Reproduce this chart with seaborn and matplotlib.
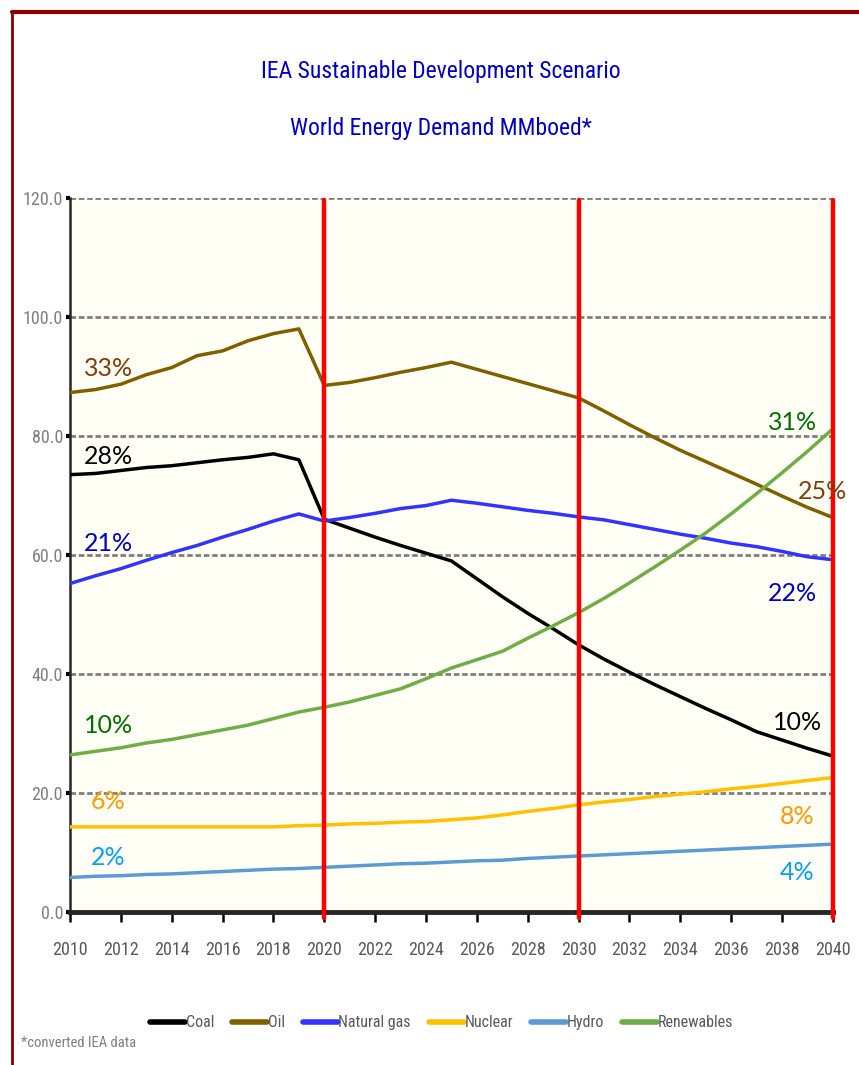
import matplotlib
matplotlib.use("Agg")
import matplotlib.pyplot as plt
import matplotlib.font_manager as fm
from matplotlib.lines import Line2D
import pandas as pd
import seaborn as sns

years = list(range(2010, 2041))

coal = [73.5, 73.7, 74.2, 74.7, 75.0, 75.5, 76.0, 76.4, 77.0, 76.0,
        66.0, 64.5, 63.0, 61.6, 60.3, 59.0, 56.0, 53.0, 50.2, 47.6,
        44.9, 42.5, 40.3, 38.2, 36.2, 34.2, 32.3, 30.3, 28.9, 27.5, 26.2]
oil = [87.3, 87.8, 88.7, 90.3, 91.5, 93.5, 94.3, 96.0, 97.2, 98.0,
       88.5, 89.0, 89.8, 90.7, 91.5, 92.4, 91.2, 90.0, 88.8, 87.6,
       86.4, 84.2, 81.9, 79.7, 77.6, 75.7, 73.8, 71.9, 69.9, 68.0, 66.3]
natural_gas = [55.2, 56.5, 57.7, 59.1, 60.4, 61.6, 63.0, 64.3, 65.7, 66.9,
               65.7, 66.3, 67.0, 67.8, 68.3, 69.2, 68.7, 68.1, 67.5, 67.0,
               66.4, 65.9, 65.1, 64.3, 63.5, 62.8, 62.0, 61.4, 60.6, 59.7, 59.2]
nuclear = [14.3, 14.3, 14.3, 14.3, 14.3, 14.3, 14.3, 14.3, 14.3, 14.5,
           14.6, 14.8, 14.9, 15.1, 15.2, 15.5, 15.8, 16.3, 16.9, 17.4,
           18.0, 18.5, 18.9, 19.4, 19.8, 20.2, 20.7, 21.1, 21.6, 22.1, 22.6]
hydro = [5.8, 6.0, 6.1, 6.3, 6.4, 6.6, 6.8, 7.0, 7.2, 7.3,
         7.5, 7.7, 7.9, 8.1, 8.2, 8.4, 8.6, 8.7, 9.0, 9.2,
         9.4, 9.6, 9.8, 10.0, 10.2, 10.4, 10.6, 10.8, 11.0, 11.2, 11.4]
renewables = [26.4, 27.0, 27.6, 28.4, 29.0, 29.8, 30.6, 31.4, 32.5, 33.6,
              34.4, 35.3, 36.4, 37.5, 39.2, 41.0, 42.4, 43.8, 46.0, 48.1,
              50.3, 52.7, 55.3, 58.0, 60.8, 63.7, 66.9, 70.3, 73.8, 77.4, 81.2]

sources = ["Coal", "Oil", "Natural gas", "Nuclear", "Hydro", "Renewables"]
series = [coal, oil, natural_gas, nuclear, hydro, renewables]
line_colors = ["#000000", "#7F6000", "#3333FF", "#FFC000", "#5B9BD5", "#70AD47"]

# share labels
start_labels = ["33%", "28%", "21%", "10%", "6%", "2%"]
start_y = [91.4, 76.6, 62.0, 31.3, 18.5, 9.1]
start_colors = ["#843C0C", "#000000", "#0000CC", "#007000", "#FF9900", "#00A0FF"]
end_labels = ["31%", "25%", "22%", "10%", "8%", "4%"]
end_y = [82.2, 70.6, 53.6, 31.8, 16.1, 6.6]
end_x = [2038.4, 2039.6, 2038.4, 2038.6, 2038.6, 2038.6]
end_colors = ["#007000", "#843C0C", "#0000CC", "#000000", "#FF9900", "#00A0FF"]

milestones = [2020, 2030, 2040]

df = pd.DataFrame({
    "Year": years * len(sources),
    "Value": [v for s in series for v in s],
    "Source": [name for name in sources for _ in years],
})

sns.set_style("white")

# pick a narrow face for the Excel-like condensed text
names = {f.name for f in fm.fontManager.ttflist}
narrow = None
for cand in ["Liberation Sans Narrow", "Roboto Condensed", "Open Sans Condensed",
             "DejaVu Sans Condensed"]:
    if cand in names:
        narrow = cand
        break
if narrow is None:
    narrow_kw = dict(family=["DejaVu Sans"], stretch="condensed")
    plt.rcParams["font.family"] = ["DejaVu Sans"]
    plt.rcParams["font.stretch"] = "condensed"
else:
    narrow_kw = dict(family=[narrow, "DejaVu Sans"])
    plt.rcParams["font.family"] = [narrow, "DejaVu Sans"]

fig = plt.figure(figsize=(8.59, 10.65), dpi=100)
ax = fig.add_axes([0.0815, 0.1437, 0.888, 0.6704])
ax.set_facecolor("#FFFFF5")

sns.lineplot(data=df, x="Year", y="Value", hue="Source", hue_order=sources,
             palette=dict(zip(sources, line_colors)), linewidth=2.5, ax=ax, zorder=3)

ax.set_xlim(2010, 2040)
ax.set_ylim(0, 120)
ax.set_xticks(range(2010, 2041, 2))
ax.set_yticks(range(0, 121, 20))
ax.set_yticklabels([f"{v:.1f}" for v in range(0, 121, 20)])
ax.set_xlabel("")
ax.set_ylabel("")
ax.yaxis.grid(True, color="#7F7F7F", linestyle=(0, (2.0, 1.0)), linewidth=2)
ax.set_axisbelow(True)
for side in ["top", "right"]:
    ax.spines[side].set_visible(False)
ax.spines["left"].set_linewidth(1.8)
ax.spines["bottom"].set_linewidth(3.5)
ax.tick_params(axis="x", direction="out", length=7, width=1.8, color="black",
               labelsize=13, labelcolor="#595959", pad=14, bottom=True)
ax.tick_params(axis="y", direction="out", length=3, width=3, color="black",
               labelsize=13, labelcolor="#7F7F7F", pad=2, left=True)

for x in milestones:
    ax.axvline(x, ymin=-0.008, ymax=0.997, color="#FF0000", linewidth=3.2,
               zorder=4, clip_on=False)

lab_font = ["Lato", "Open Sans", "DejaVu Sans"]
for t, y, c in zip(start_labels, start_y, start_colors):
    ax.text(2011.5, y, t, color=c, fontsize=18, ha="center", va="center",
            family=lab_font, stretch="normal", zorder=5)
for t, x, y, c in zip(end_labels, end_x, end_y, end_colors):
    ax.text(x, y, t, color=c, fontsize=18, ha="center", va="center",
            family=lab_font, stretch="normal", zorder=5)

fig.text(0.513, 0.933, "IEA Sustainable Development Scenario", color="#0000CC",
         fontsize=17, ha="center", va="center", **narrow_kw)
fig.text(0.513, 0.879, "World Energy Demand MMboed*", color="#0000CC",
         fontsize=17, ha="center", va="center", **narrow_kw)

handles, labels = ax.get_legend_handles_labels()
for h in handles:
    h.set_linewidth(4)
ax.legend(handles, labels, loc="center", bbox_to_anchor=(0.487, -0.155), ncol=6,
          frameon=False, handlelength=2.2, handletextpad=0.05,
          columnspacing=1.1, labelcolor="#595959",
          prop=dict(size=11.5, **narrow_kw))

fig.text(0.024, 0.021, "*converted IEA data", color="#7F7F7F", fontsize=10.5,
         ha="left", va="center", **narrow_kw)

# dark red frame along the top and left edges
fig.add_artist(Line2D([0.0145, 1.0], [0.9888, 0.9888], color="#8B0000",
                      linewidth=3, transform=fig.transFigure))
fig.add_artist(Line2D([0.0145, 0.0145], [0.0, 0.9888], color="#8B0000",
                      linewidth=2, transform=fig.transFigure))

fig.savefig("out.png", dpi=100)
